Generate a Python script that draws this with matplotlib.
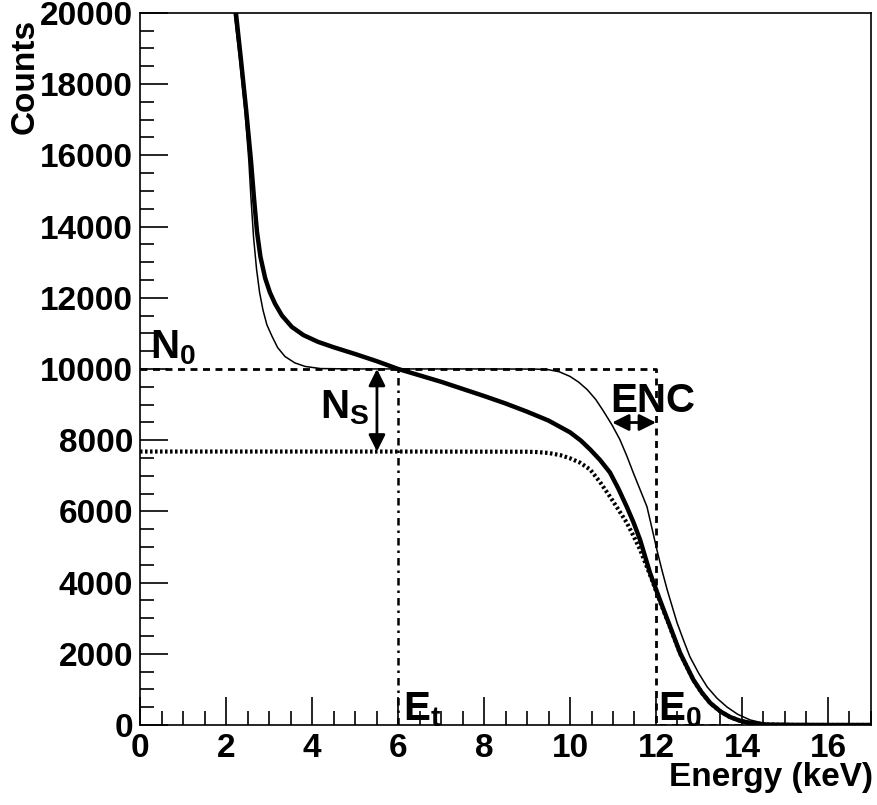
import numpy as np
import matplotlib
matplotlib.use('Agg')
import matplotlib.pyplot as plt
from matplotlib.ticker import MultipleLocator

plt.rcParams['font.family'] = ['Liberation Sans', 'DejaVu Sans']
plt.rcParams['font.weight'] = 'bold'
plt.rcParams['mathtext.fontset'] = 'custom'
plt.rcParams['mathtext.rm'] = 'Liberation Sans:bold'
plt.rcParams['mathtext.it'] = 'Liberation Sans:bold'
plt.rcParams['mathtext.bf'] = 'Liberation Sans:bold'

# measured spectrum (thick line)
meas_e = [2.23, 2.35, 2.47, 2.58, 2.65, 2.72, 2.8, 2.91, 3.02, 3.14, 3.3, 3.53, 3.8,
          4.14, 4.5, 5.0, 5.5, 6.0, 6.5, 7.0, 7.5, 8.0, 8.5, 9.0, 9.5, 10.0, 10.25,
          10.47, 10.7, 10.93, 11.12, 11.32, 11.48, 11.63, 11.86, 12.09, 12.33, 12.56,
          12.87, 13.06, 13.26, 13.5, 13.72, 13.95, 14.19, 14.58, 15.2, 16.0, 17.0]
meas_n = [20000, 18650, 17250, 15850, 14800, 13850, 13150, 12550, 12150, 11830, 11500,
          11180, 10950, 10760, 10610, 10420, 10220, 10000, 9820, 9640, 9440, 9240,
          9030, 8800, 8550, 8220, 7990, 7736, 7440, 7090, 6650, 6130, 5680, 5200,
          4275, 3516, 2757, 2025, 1266, 920, 620, 380, 225, 120, 56, 12, 2, 0, 0]

# ideal spectrum (thin line)
ideal_e = [2.19, 2.32, 2.44, 2.53, 2.58, 2.64, 2.71, 2.78, 2.86, 2.95, 3.07, 3.2,
           3.37, 3.6, 3.84, 4.2, 5.0, 6.0, 8.0, 9.2, 9.47, 9.75, 10.0, 10.2, 10.4,
           10.6, 10.77, 10.98, 11.16, 11.32, 11.47, 11.63, 11.79, 11.9, 12.02, 12.14,
           12.26, 12.49, 12.64, 12.79, 12.99, 13.19, 13.42, 13.65, 13.9, 14.19,
           14.58, 15.0, 15.6, 16.0, 17.0]
ideal_n = [20000, 18650, 17250, 15850, 14800, 13700, 12800, 12150, 11650, 11240, 10915,
           10600, 10350, 10170, 10070, 10010, 10000, 10000, 10000, 9995, 9985, 9920,
           9790, 9630, 9420, 9140, 8830, 8420, 8017, 7560, 7090, 6610, 6130, 5560,
           4923, 4340, 3798, 2870, 2380, 1913, 1460, 1069, 750, 506, 300, 141, 28, 6,
           0, 0, 0]

# signal part (dotted line)
sig_e = [0.0, 3.0, 6.0, 9.0, 9.23, 9.5, 9.77, 10.0, 10.23, 10.47, 10.7, 10.93,
         11.12, 11.32, 11.48, 11.63, 11.86, 12.09, 12.33, 12.56, 12.87, 13.06,
         13.26, 13.5, 13.72, 13.95, 14.19, 14.58, 15.2, 16.0, 17.0]
sig_n = [7680, 7680, 7680, 7675, 7665, 7640, 7580, 7490, 7370, 7173, 6820, 6413,
         6060, 5682, 5300, 4923, 4220, 3480, 2730, 2010, 1260, 915, 615, 378,
         224, 120, 56, 12, 2, 0, 0]

# threshold step (dashed)
step_e = [0.0, 12.0, 12.0, 17.0]
step_n = [10000, 10000, 0, 0]

E_t = 6.0
E_0 = 12.0
N_0 = 10000
N_s_low = 7680
ns_x = 5.51
enc_low = 10.98
enc_y = 8495

fig = plt.figure(figsize=(8.78, 8.05), dpi=100)
ax = fig.add_axes([0.1595, 0.0994, 0.8325, 0.8846])

ax.plot(step_e, step_n, color='black', lw=2, ls=(0, (2.5, 2)))
ax.plot([E_t, E_t], [0, N_0], color='black', lw=1.8, ls=(0, (3, 2, 1, 2)))
ax.plot(sig_e, sig_n, color='black', lw=3, ls=(0, (0.6, 0.6)))
ax.plot(ideal_e, ideal_n, color='black', lw=1.1)
ax.plot(meas_e, meas_n, color='black', lw=3.2, solid_joinstyle='round')

arrow = dict(arrowstyle='<|-|>', color='black', lw=2, mutation_scale=25,
             shrinkA=0, shrinkB=0)
ax.annotate('', xy=(ns_x, N_s_low), xytext=(ns_x, N_0), arrowprops=arrow)
ax.annotate('', xy=(enc_low, enc_y), xytext=(E_0, enc_y), arrowprops=arrow)

ax.text(0.23, 10300, 'N$_0$', fontsize=29, weight='bold')
ax.text(4.19, 8610, 'N$_S$', fontsize=29, weight='bold')
ax.text(10.93, 8800, 'ENC', fontsize=29, weight='bold')
ax.text(6.12, 140, 'E$_t$', fontsize=29, weight='bold')
ax.text(12.05, 140, 'E$_0$', fontsize=29, weight='bold')

ax.set_xlim(0, 17)
ax.set_ylim(0, 20000)
ax.xaxis.set_major_locator(MultipleLocator(2))
ax.xaxis.set_minor_locator(MultipleLocator(0.5))
ax.yaxis.set_major_locator(MultipleLocator(2000))
ax.yaxis.set_minor_locator(MultipleLocator(500))
ax.tick_params(which='both', direction='in', top=False, right=False, labelsize=24)
ax.tick_params(which='major', length=20, width=1.2)
ax.tick_params(which='minor', length=10, width=1.2)
ax.tick_params(axis='x', pad=6)
ax.tick_params(axis='y', pad=5)
for lab in ax.get_xticklabels() + ax.get_yticklabels():
    lab.set_fontweight('bold')
for sp in ax.spines.values():
    sp.set_linewidth(1.2)

ax.set_ylabel('Counts', fontsize=24, weight='bold', loc='top')
ax.yaxis.set_label_coords(-0.136, 0.992)
ax.set_xlabel('Energy (keV)', fontsize=24, weight='bold', loc='right')
ax.xaxis.set_label_coords(1.003, -0.052)

fig.savefig('out.png', dpi=100)
